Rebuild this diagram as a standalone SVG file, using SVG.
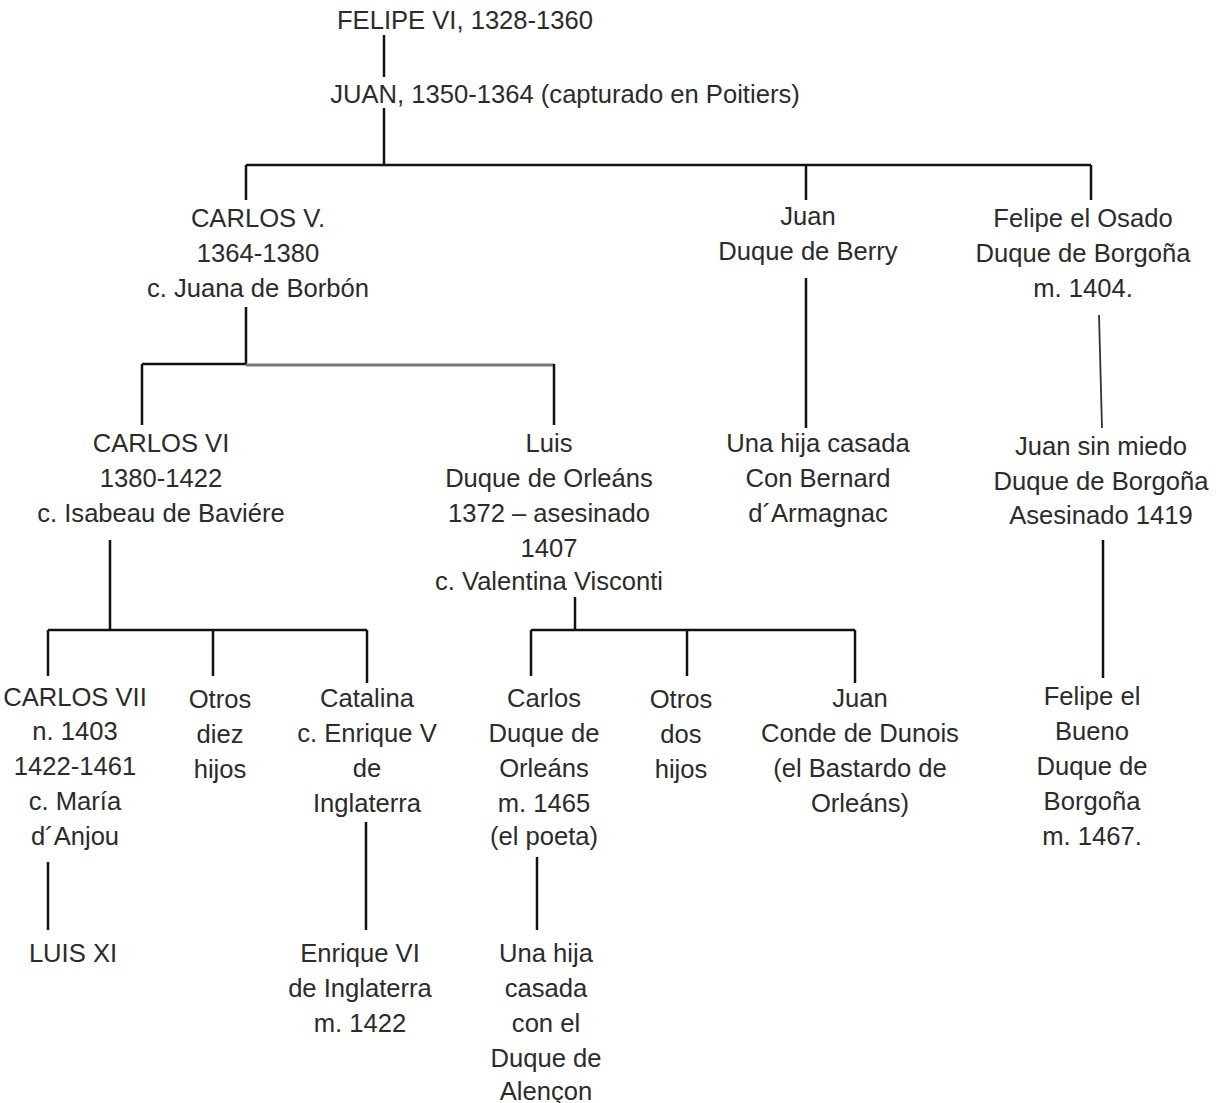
<svg xmlns="http://www.w3.org/2000/svg" width="1221" height="1103" viewBox="0 0 1221 1103">
<style>
  text { font-family: "Liberation Sans", Arial, sans-serif; font-size: 25.6px; fill: #2b2b2b; text-anchor: middle; }
  .ln { stroke: #111; stroke-width: 2.5; fill: none; }
  .lg { stroke: #777; stroke-width: 3; fill: none; }
  .lt { stroke: #333; stroke-width: 1.8; fill: none; }
</style>
<rect width="1221" height="1103" fill="#fff"/>
<g id="connectors">
  <path class="ln" d="M384 35 V77"/>
  <path class="ln" d="M384 108 V165"/>
  <path class="ln" d="M246 165 H1091"/>
  <path class="ln" d="M246 165 V200"/>
  <path class="ln" d="M806 165 V200"/>
  <path class="ln" d="M1091 165 V200"/>
  <path class="ln" d="M246 307 V364"/>
  <path class="ln" d="M142 364 H246"/>
  <path class="lg" d="M246 365 H554"/>
  <path class="ln" d="M142 364 V425"/>
  <path class="ln" d="M554 364 V425"/>
  <path class="ln" d="M806 278 V428"/>
  <path class="lt" d="M1099 315 L1102 428"/>
  <path class="ln" d="M1103 540 V678"/>
  <path class="ln" d="M110 540 V630"/>
  <path class="ln" d="M48 630 H367"/>
  <path class="ln" d="M48 630 V676"/>
  <path class="ln" d="M213 630 V676"/>
  <path class="ln" d="M367 630 V683"/>
  <path class="ln" d="M575 597 V630"/>
  <path class="ln" d="M531 630 H855"/>
  <path class="ln" d="M531 630 V676"/>
  <path class="ln" d="M687 630 V676"/>
  <path class="ln" d="M855 630 V683"/>
  <path class="ln" d="M48 862 V930"/>
  <path class="ln" d="M366 822 V930"/>
  <path class="ln" d="M537 857 V930"/>
</g>
<g id="felipe6"><text x="465" y="29">FELIPE VI, 1328-1360</text></g>
<g id="juan"><text x="565" y="103">JUAN, 1350-1364 (capturado en Poitiers)</text></g>
<g id="carlos5">
  <text x="258" y="227">CARLOS V.</text>
  <text x="258" y="262">1364-1380</text>
  <text x="258" y="297">c. Juana de Borbón</text>
</g>
<g id="berry">
  <text x="808" y="225">Juan</text>
  <text x="808" y="260">Duque de Berry</text>
</g>
<g id="osado">
  <text x="1083" y="227">Felipe el Osado</text>
  <text x="1083" y="262">Duque de Borgoña</text>
  <text x="1083" y="297">m. 1404.</text>
</g>
<g id="carlos6">
  <text x="161" y="452">CARLOS VI</text>
  <text x="161" y="487">1380-1422</text>
  <text x="161" y="522">c. Isabeau de Baviére</text>
</g>
<g id="luis">
  <text x="549" y="452">Luis</text>
  <text x="549" y="487">Duque de Orleáns</text>
  <text x="549" y="522">1372 – asesinado</text>
  <text x="549" y="557">1407</text>
  <text x="549" y="590">c. Valentina Visconti</text>
</g>
<g id="hija_berry">
  <text x="818" y="452">Una hija casada</text>
  <text x="818" y="487">Con Bernard</text>
  <text x="818" y="522">d´Armagnac</text>
</g>
<g id="sin_miedo">
  <text x="1101" y="455">Juan sin miedo</text>
  <text x="1101" y="490">Duque de Borgoña</text>
  <text x="1101" y="524">Asesinado 1419</text>
</g>
<g id="carlos7">
  <text x="75" y="706">CARLOS VII</text>
  <text x="75" y="740">n. 1403</text>
  <text x="75" y="775">1422-1461</text>
  <text x="75" y="810">c. María</text>
  <text x="75" y="845">d´Anjou</text>
</g>
<g id="otros_diez">
  <text x="220" y="708">Otros</text>
  <text x="220" y="743">diez</text>
  <text x="220" y="778">hijos</text>
</g>
<g id="catalina">
  <text x="367" y="707">Catalina</text>
  <text x="367" y="742">c. Enrique V</text>
  <text x="367" y="777">de</text>
  <text x="367" y="812">Inglaterra</text>
</g>
<g id="carlos_orleans">
  <text x="544" y="707">Carlos</text>
  <text x="544" y="742">Duque de</text>
  <text x="544" y="777">Orleáns</text>
  <text x="544" y="812">m. 1465</text>
  <text x="544" y="845">(el poeta)</text>
</g>
<g id="otros_dos">
  <text x="681" y="708">Otros</text>
  <text x="681" y="743">dos</text>
  <text x="681" y="778">hijos</text>
</g>
<g id="juan_dunois">
  <text x="860" y="707">Juan</text>
  <text x="860" y="742">Conde de Dunois</text>
  <text x="860" y="777">(el Bastardo de</text>
  <text x="860" y="812">Orleáns)</text>
</g>
<g id="felipe_bueno">
  <text x="1092" y="705">Felipe el</text>
  <text x="1092" y="740">Bueno</text>
  <text x="1092" y="775">Duque de</text>
  <text x="1092" y="810">Borgoña</text>
  <text x="1092" y="845">m. 1467.</text>
</g>
<g id="luis11"><text x="73" y="962">LUIS XI</text></g>
<g id="enrique6">
  <text x="360" y="962">Enrique VI</text>
  <text x="360" y="997">de Inglaterra</text>
  <text x="360" y="1032">m. 1422</text>
</g>
<g id="hija_alencon">
  <text x="546" y="962">Una hija</text>
  <text x="546" y="997">casada</text>
  <text x="546" y="1032">con el</text>
  <text x="546" y="1067">Duque de</text>
  <text x="546" y="1100">Alençon</text>
</g>
</svg>
